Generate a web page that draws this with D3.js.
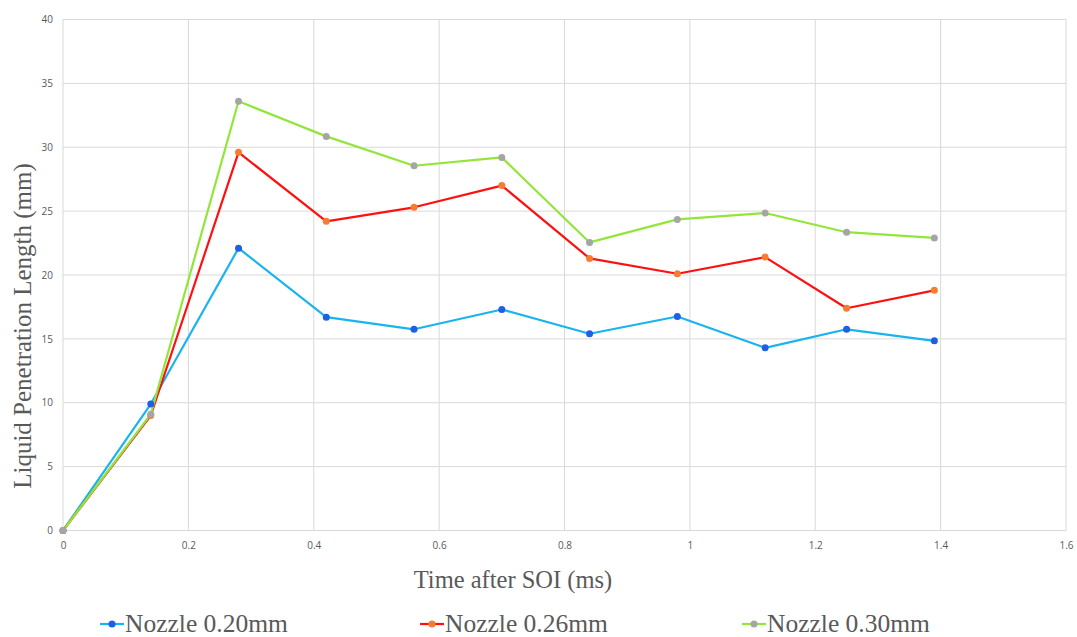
<!DOCTYPE html>
<html><head><meta charset="utf-8">
<script src="https://cdn.jsdelivr.net/npm/d3@7"></script>
<style>body{margin:0;background:#fff}</style>
</head><body>
<svg id="chart" width="1077" height="637"></svg>
<script>
const times = [0, 0.14, 0.28, 0.42, 0.56, 0.70, 0.84, 0.98, 1.12, 1.25, 1.39];
const nozzle020 = [0, 9.9, 22.1, 16.7, 15.75, 17.3, 15.4, 16.75, 14.3, 15.75, 14.85];
const nozzle026 = [0, 9.0, 29.6, 24.2, 25.3, 27.0, 21.3, 20.1, 21.4, 17.4, 18.8];
const nozzle030 = [0, 9.1, 33.6, 30.85, 28.55, 29.2, 22.55, 24.35, 24.85, 23.35, 22.9];
const seriesNames = ["Nozzle 0.20mm", "Nozzle 0.26mm", "Nozzle 0.30mm"];
const xTicks = [0, 0.2, 0.4, 0.6, 0.8, 1, 1.2, 1.4, 1.6];
const yTicks = [0, 5, 10, 15, 20, 25, 30, 35, 40];

const lineColors = ["#19b4f0", "#ff1010", "#92e639"];
const markerColors = ["#1f5fe6", "#f57d2f", "#a5a5a5"];
const data = [nozzle020, nozzle026, nozzle030];

const svg = d3.select("#chart");
const L = 63, R = 1066, T = 19.5, B = 530.5;
const x = d3.scaleLinear().domain([0, 1.6]).range([L, R]);
const y = d3.scaleLinear().domain([0, 40]).range([B, T]);

// gridlines
svg.append("g").selectAll("line").data(yTicks).join("line")
  .attr("x1", L).attr("x2", R).attr("y1", d => y(d)).attr("y2", d => y(d))
  .attr("stroke", "#d9d9d9").attr("stroke-width", 1);
svg.append("g").selectAll("line").data(xTicks).join("line")
  .attr("x1", d => x(d)).attr("x2", d => x(d)).attr("y1", T).attr("y2", B)
  .attr("stroke", "#d9d9d9").attr("stroke-width", 1);

// axes labels via d3 axes
const xAxis = svg.append("g").attr("transform", `translate(0,${B})`)
  .call(d3.axisBottom(x).tickValues(xTicks).tickFormat(d3.format("~g")).tickSize(0).tickPadding(11));
const yAxis = svg.append("g").attr("transform", `translate(${L},0)`)
  .call(d3.axisLeft(y).tickValues(yTicks).tickSize(0).tickPadding(10));
[xAxis, yAxis].forEach(a => {
  a.select(".domain").remove();
  a.selectAll("text").attr("fill", "#595959").style("font-family", "'Open Sans', sans-serif").style("font-size", "10px");
});

// lines
const line = d3.line().x((d, i) => x(times[i])).y(d => y(d));
data.forEach((vals, s) => {
  svg.append("path").datum(vals).attr("d", line)
    .attr("fill", "none").attr("stroke", lineColors[s]).attr("stroke-width", 2.2)
    .attr("stroke-linejoin", "round");
});
data.forEach((vals, s) => {
  svg.append("g").selectAll("circle").data(vals).join("circle")
    .attr("cx", (d, i) => x(times[i])).attr("cy", d => y(d)).attr("r", 3.5)
    .attr("fill", markerColors[s]);
});

// axis titles
svg.append("text").attr("x", 513).attr("y", 588).attr("text-anchor", "middle")
  .attr("fill", "#595959").style("font-family", "'Liberation Serif', serif").style("font-size", "24.5px")
  .text("Time after SOI (ms)");
svg.append("text").attr("transform", "translate(31,326) rotate(-90)").attr("text-anchor", "middle")
  .attr("fill", "#595959").style("font-family", "'Liberation Serif', serif").style("font-size", "25px")
  .text("Liquid Penetration Length (mm)");

// legend
const legX = [100, 420, 742];
seriesNames.forEach((name, s) => {
  const g = svg.append("g").attr("transform", `translate(${legX[s]},624)`);
  g.append("line").attr("x1", 0).attr("x2", 24).attr("y1", 0).attr("y2", 0)
    .attr("stroke", lineColors[s]).attr("stroke-width", 2.2);
  g.append("circle").attr("cx", 12).attr("cy", 0).attr("r", 3.5).attr("fill", markerColors[s]);
  g.append("text").attr("x", 25).attr("y", 8).attr("fill", "#595959")
    .style("font-family", "'Liberation Serif', serif").style("font-size", "25.5px").text(name);
});
</script>
</body></html>
